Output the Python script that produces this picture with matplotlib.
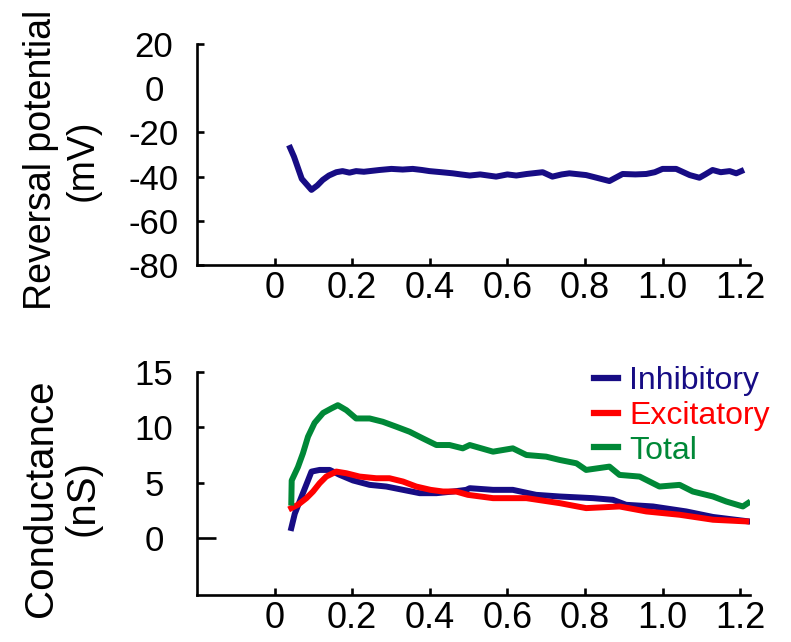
import matplotlib
matplotlib.use('Agg')
from matplotlib import pyplot as plt

plt.rcParams['font.family'] = ['Liberation Sans', 'DejaVu Sans']
plt.rcParams['axes.unicode_minus'] = False

# reversal potential trace (s, mV)
t_rev = [0.040, 0.050, 0.060, 0.070, 0.080, 0.095, 0.110, 0.124, 0.140, 0.159,
         0.175, 0.193, 0.210, 0.230, 0.245, 0.270, 0.301, 0.330, 0.356, 0.380,
         0.399, 0.430, 0.459, 0.480, 0.503, 0.530, 0.571, 0.600, 0.623, 0.650,
         0.691, 0.716, 0.740, 0.760, 0.803, 0.830, 0.863, 0.897, 0.930, 0.958,
         0.980, 1.000, 1.035, 1.070, 1.095, 1.110, 1.129, 1.150, 1.173, 1.190,
         1.203]
v_rev = [-27, -31, -36, -41, -43, -46, -44, -41.5, -39.5, -38,
         -37.5, -38.2, -37.5, -37.8, -37.5, -37, -36.5, -36.8, -36.5, -37,
         -37.5, -38, -38.5, -39, -39.5, -39, -40, -39, -39.5, -38.8,
         -38, -40, -39, -38.5, -39.3, -40.5, -42, -38.8, -39, -38.8,
         -38, -36.5, -36.5, -39.3, -40.5, -39, -37, -38, -37.5, -38.5,
         -37.5]

# conductances (s, nS)
t_tot = [0.043, 0.044, 0.060, 0.073, 0.086, 0.103, 0.125, 0.146, 0.163, 0.185,
         0.210, 0.245, 0.279, 0.314, 0.348, 0.382, 0.417, 0.451, 0.485, 0.503,
         0.563, 0.614, 0.649, 0.700, 0.735, 0.778, 0.803, 0.863, 0.889, 0.941,
         0.992, 1.044, 1.078, 1.130, 1.164, 1.207, 1.220]
g_tot = [3.2, 5.2, 6.4, 7.65, 9.15, 10.4, 11.3, 11.7, 12.0, 11.55,
         10.8, 10.8, 10.5, 10.05, 9.6, 9.0, 8.4, 8.4, 8.1, 8.4,
         7.8, 8.1, 7.5, 7.35, 7.05, 6.75, 6.15, 6.45, 5.7, 5.55,
         4.65, 4.8, 4.2, 3.75, 3.3, 2.85, 3.15]

t_inh = [0.043, 0.052, 0.069, 0.086, 0.095, 0.116, 0.142, 0.168, 0.202, 0.245,
         0.288, 0.331, 0.374, 0.417, 0.460, 0.494, 0.503, 0.563, 0.614, 0.674,
         0.735, 0.821, 0.872, 0.906, 0.975, 1.061, 1.130, 1.222]
g_inh = [0.9, 2.2, 3.7, 5.2, 6.0, 6.15, 6.15, 5.7, 5.2, 4.8,
         4.65, 4.35, 4.05, 4.05, 4.2, 4.35, 4.5, 4.35, 4.35, 3.9,
         3.75, 3.6, 3.45, 3.0, 2.85, 2.4, 1.9, 1.5]

t_exc = [0.043, 0.060, 0.082, 0.099, 0.116, 0.133, 0.159, 0.185, 0.219, 0.262,
         0.296, 0.331, 0.365, 0.402, 0.434, 0.468, 0.498, 0.563, 0.649, 0.735,
         0.803, 0.889, 0.958, 1.044, 1.130, 1.216]
g_exc = [2.7, 3.0, 3.6, 4.2, 4.95, 5.55, 6.0, 5.85, 5.55, 5.4,
         5.4, 5.1, 4.65, 4.35, 4.2, 4.2, 3.9, 3.6, 3.6, 3.15,
         2.7, 2.85, 2.4, 2.1, 1.65, 1.5]

x_ticks = [0, 0.2, 0.4, 0.6, 0.8, 1.0, 1.2]
x_labels = ['0', '0.2', '0.4', '0.6', '0.8', '1.0', '1.2']
rev_ticks = [-80, -60, -40, -20, 0, 20]
g_ticks = [0, 5, 10, 15]

navy = '#170c84'
red = '#ff0000'
green = '#008837'

fig = plt.figure(figsize=(7.91, 6.42), dpi=100)
ax1 = fig.add_axes([0.2491, 0.5872, 0.6991, 0.3442])
ax2 = fig.add_axes([0.2491, 0.0732, 0.6991, 0.3474])

for ax in (ax1, ax2):
    ax.spines['top'].set_visible(False)
    ax.spines['right'].set_visible(False)
    ax.spines['left'].set_linewidth(1.9)
    ax.spines['bottom'].set_linewidth(1.9)
    ax.set_xlim(-0.2, 1.2255)
    ax.set_xticks(x_ticks)
    ax.set_xticklabels(x_labels)
    ax.tick_params(axis='both', direction='in', length=5, width=1.9)
    ax.tick_params(axis='x', labelsize=26, pad=4)
    ax.tick_params(axis='y', labelsize=25, pad=31)

ax1.plot(t_rev, v_rev, color=navy, lw=4.3)
ax1.set_ylim(-80, 20)
ax1.set_yticks(rev_ticks)
for lab in ax1.get_yticklabels():
    lab.set_horizontalalignment('center')
# no tick mark at 0 in the original
for tk, val in zip(ax1.yaxis.get_major_ticks(), rev_ticks):
    if val == 0:
        tk.tick1line.set_visible(False)

ax2.plot(t_inh, g_inh, color=navy, lw=4.3, label='Inhibitory')
ax2.plot(t_exc, g_exc, color=red, lw=4.3, label='Excitatory')
ax2.plot(t_tot, g_tot, color=green, lw=4.3, label='Total')
ax2.set_ylim(-5.15, 15)
ax2.set_yticks(g_ticks)
for lab in ax2.get_yticklabels():
    lab.set_horizontalalignment('center')
# longer tick at zero
for tk, val in zip(ax2.yaxis.get_major_ticks(), g_ticks):
    if val == 0:
        tk.tick1line.set_markersize(14)

leg = ax2.legend(loc='upper left', bbox_to_anchor=(594 / 791, 1 - 366 / 642),
                 bbox_transform=fig.transFigure, frameon=False, fontsize=23,
                 handlelength=0.75, handletextpad=0.35, labelspacing=0.15,
                 borderpad=0, borderaxespad=0)
for txt, ln in zip(leg.get_texts(), leg.get_lines()):
    txt.set_color(ln.get_color())
    ln.set_linewidth(4.5)

fig.text(62 / 791, 1 - 160 / 642, 'Reversal potential\n(mV)', rotation=90,
         ha='center', va='center', multialignment='center', fontsize=27,
         linespacing=1.2)
fig.text(62 / 791, 1 - 498 / 642, 'Conductance\n(nS)', rotation=90,
         ha='center', va='center', multialignment='center', fontsize=29,
         linespacing=1.1)

fig.savefig('out.png', dpi=100)
